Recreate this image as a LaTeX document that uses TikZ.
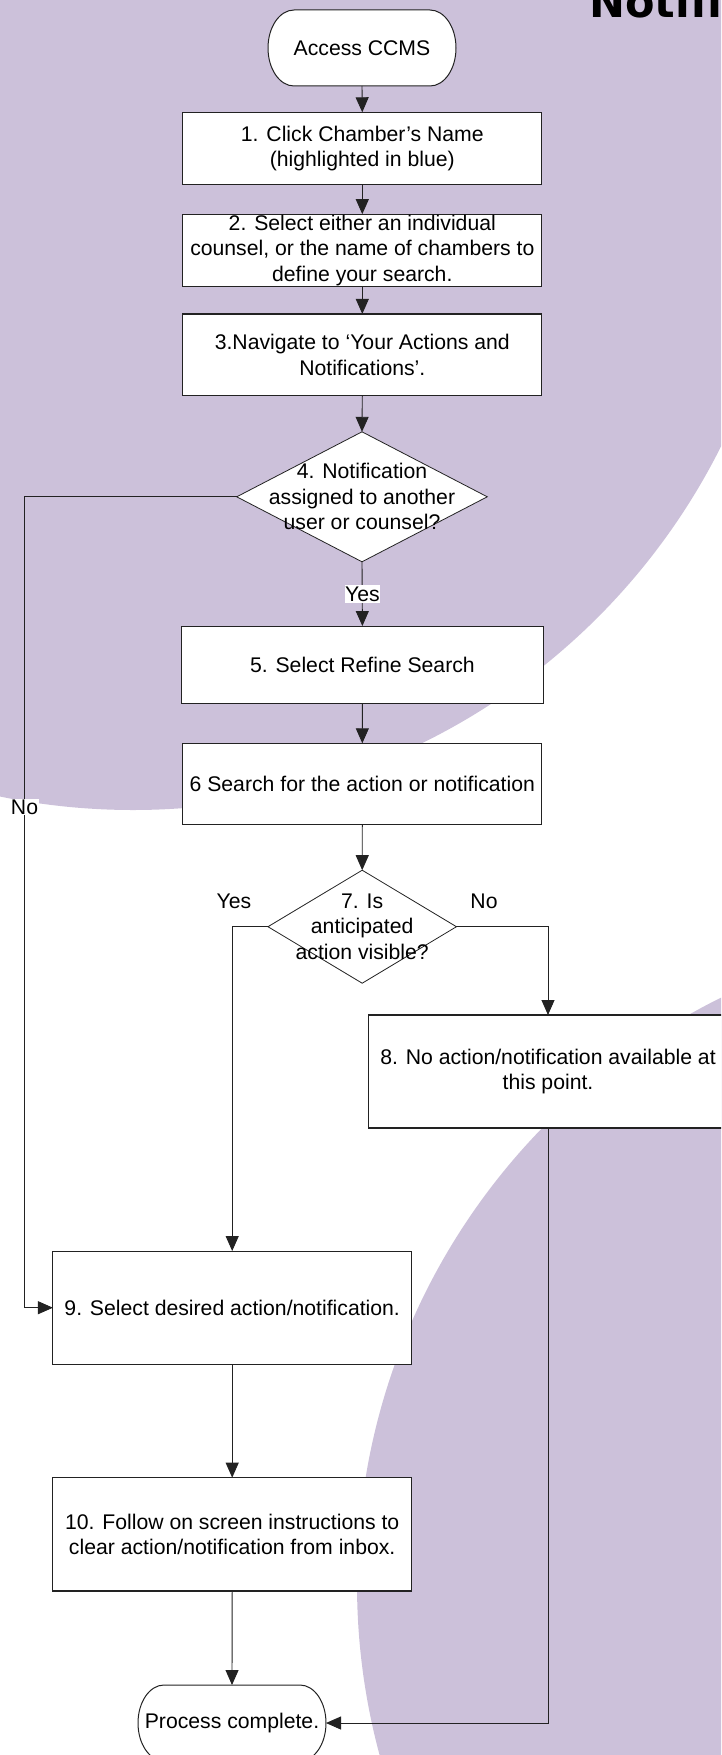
\documentclass[tikz,border=0pt]{standalone}
\usepackage{fontspec}
\setmainfont{Liberation Sans}
\newfontfamily\titlefam{DejaVu Sans}
\usetikzlibrary{arrows.meta,shapes.geometric}
\definecolor{purp}{HTML}{CCC1DA}
\definecolor{edge}{HTML}{222222}
\begin{document}
\begin{tikzpicture}[x=1pt,y=1pt,
  txt/.style={font=\fontsize{21.2}{25.5}\selectfont, align=center, text=black},
  stepbox/.style={txt, rectangle, draw=edge, fill=white, line width=1.1pt, inner sep=0pt, outer sep=0pt},
  dia/.style={diamond, draw=edge, fill=white, line width=0.8pt, inner sep=0pt, outer sep=0pt},
  termbox/.style={txt, rectangle, inner sep=0pt, outer sep=0pt, minimum width=188pt, minimum height=76pt},
  termline/.style={fill=white, draw=edge, line width=1pt},
  conn/.style={draw=edge, line width=0.9pt, -{Triangle[length=15pt,width=13pt]}},
  lbl/.style={txt, inner sep=0pt},
]
\useasboundingbox (0,0) rectangle (721,-1755);
\clip (0,0) rectangle (721,-1755);
% background
\fill[purp] (133,-153) circle (657);
\fill[purp] (1011,-1584) circle (654);
\node[anchor=base west, font=\titlefam\bfseries\fontsize{43}{50}\selectfont, inner sep=0pt] (title) at (589,-18) {Notifi};

% terminals outlines
\filldraw[termline] (294,-10) -- (430,-10) arc[start angle=90, end angle=-90, x radius=26, y radius=38] -- (294,-86) arc[start angle=270, end angle=90, x radius=26, y radius=38] -- cycle;
\node[termbox] (start) at (362,-48) {Access CCMS};

\filldraw[termline] (164,-1685) -- (300,-1685) arc[start angle=90, end angle=-90, x radius=26, y radius=38] -- (164,-1761) arc[start angle=270, end angle=90, x radius=26, y radius=38] -- cycle;
\node[termbox] (finish) at (232,-1723) {Process complete.};

% boxes
\node[stepbox, minimum width=359pt, minimum height=72pt] (b1) at (362.3,-148.3) {1. Click Chamber’s Name\\(highlighted in blue)};
\node[stepbox, minimum width=359pt, minimum height=72pt] (b2) at (362.3,-250.2) {2. Select either an individual\\counsel, or the name of chambers to\\define your search.};
\node[stepbox, minimum width=359pt, minimum height=81.7pt] (b3) at (362.3,-354.8) {3.Navigate to ‘Your Actions and\\Notifications’.};
\node[dia, minimum width=250.5pt, minimum height=130pt] (d4) at (362,-496.8) {};
\node[txt, inner sep=0pt] (d4t) at (d4.center) {4. Notification\\assigned to another\\user or counsel?};
\node[stepbox, minimum width=361.8pt, minimum height=77.3pt] (b5) at (362.4,-664.7) {5. Select Refine Search};
\node[stepbox, minimum width=359pt, minimum height=81pt] (b6) at (362.3,-783.8) {6 Search for the action or notification};
\node[dia, minimum width=188.5pt, minimum height=113pt] (d7) at (362.2,-926.7) {};
\node[txt, inner sep=0pt] (d7t) at (d7.center) {7. Is\\anticipated\\action visible?};
\node[stepbox, minimum width=358.6pt, minimum height=113pt] (b8) at (548,-1071.5) {8. No action/notification available at\\this point.};
\node[stepbox, minimum width=358.6pt, minimum height=113.3pt] (b9) at (232.2,-1307.7) {9. Select desired action/notification.};
\node[stepbox, minimum width=358.6pt, minimum height=113.3pt] (b10) at (232.2,-1534.3) {10. Follow on screen instructions to\\clear action/notification from inbox.};

% connectors
\draw[conn] (start.south) -- (b1.north);
\draw[conn] (b1.south) -- (b2.north);
\draw[conn] (b2.south) -- (b3.north);
\draw[conn] (b3.south) -- (d4.north);
\draw[conn] (d4.south) -- (b5.north);
\node[lbl, fill=white, inner ysep=2pt] (yes4) at (362.5,-594) {Yes};
\draw[conn] (b5.south) -- (b6.north);
\draw[conn] (b6.south) -- (d7.north);
\coordinate (lft) at (24.4,-496.8);
\draw[conn] (d4.west) -- (lft) |- (b9.west);
\node[lbl, fill=white, inner xsep=1pt, inner ysep=1pt] (no4) at (24.5,-807) {No};
\draw[conn] (d7.west) -| (b9.north);
\draw[conn] (d7.east) -| (b8.north);
\node[lbl] (yes7) at (234,-901) {Yes};
\node[lbl] (no7) at (484,-901) {No};
\draw[conn] (b8.south) |- (finish.east);
\draw[conn] (b9.south) -- (b10.north);
\draw[conn] (b10.south) -- (finish.north);
\end{tikzpicture}
\end{document}
